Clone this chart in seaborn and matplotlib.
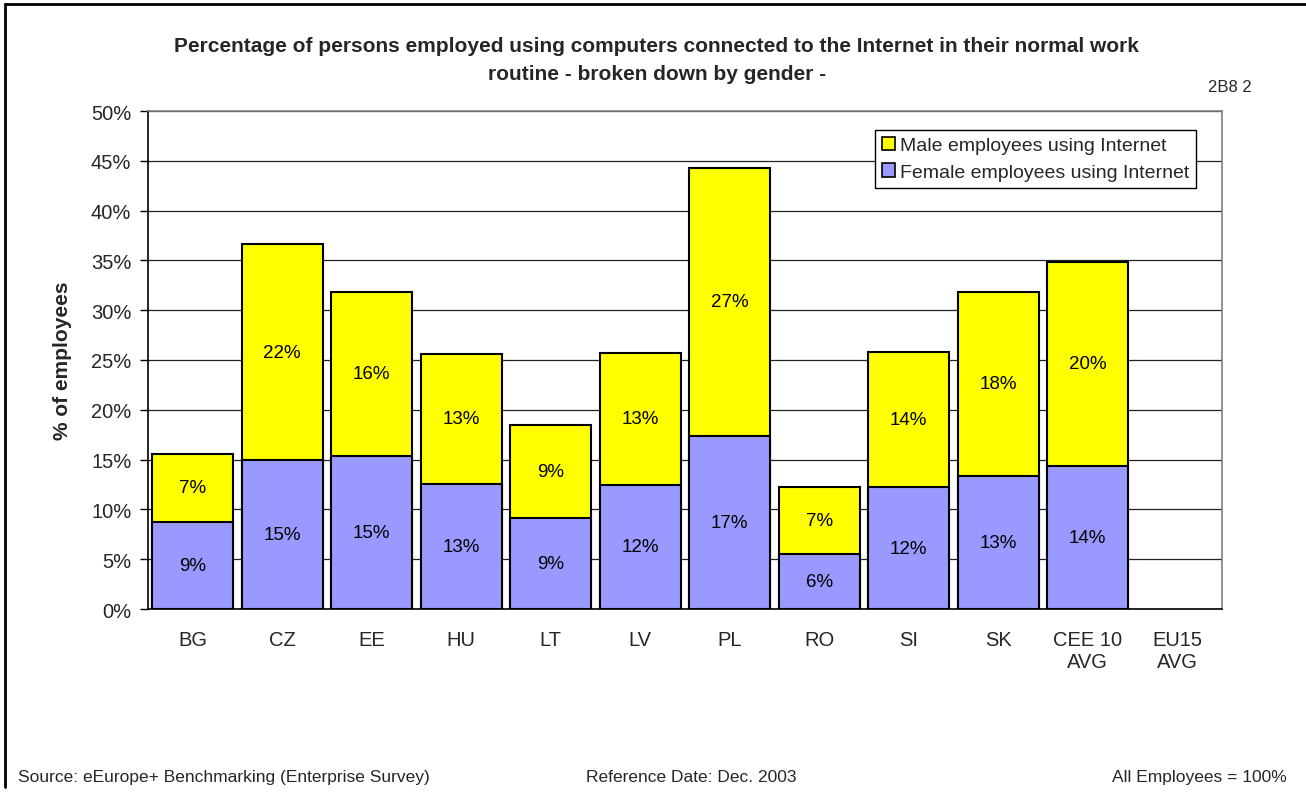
import matplotlib
matplotlib.use("Agg")
import matplotlib.pyplot as plt
from matplotlib.patches import Patch
from matplotlib.lines import Line2D
import numpy as np
import pandas as pd
import seaborn as sns

# Share of employees using Internet-connected computers, by gender (% of all employees)
countries = ["BG", "CZ", "EE", "HU", "LT", "LV", "PL", "RO", "SI", "SK", "CEE 10\nAVG", "EU15\nAVG"]
female = [8.7, 15.0, 15.4, 12.6, 9.1, 12.5, 17.4, 5.5, 12.2, 13.4, 14.4, np.nan]
male = [6.9, 21.6, 16.4, 13.0, 9.4, 13.2, 26.9, 6.7, 13.6, 18.4, 20.4, np.nan]
y_ticks = [0, 5, 10, 15, 20, 25, 30, 35, 40, 45, 50]

df = pd.DataFrame({"country": countries, "female": female, "male": male})
df["total"] = df["female"] + df["male"]

sns.set_theme(style="white")
plt.rcParams["font.family"] = ["Liberation Sans", "DejaVu Sans"]

YELLOW = "#FFFF00"
BLUE = "#9999FF"

fig = plt.figure(figsize=(13.06, 8.03), dpi=100)
ax = fig.add_axes([148 / 1306, 1 - 610 / 803, 1074 / 1306, 498 / 803])

# stacked bars: full height in yellow (male on top), female part drawn over it
sns.barplot(data=df, x="country", y="total", order=countries, color=YELLOW,
            saturation=1, width=0.9, edgecolor="black", linewidth=1.5, ax=ax, zorder=3)
sns.barplot(data=df, x="country", y="female", order=countries, color=BLUE,
            saturation=1, width=0.9, edgecolor="black", linewidth=1.5, ax=ax, zorder=4)

for i, row in df.iterrows():
    if np.isnan(row["female"]):
        continue
    ax.text(i, row["female"] / 2, f"{row['female']:.0f}%", ha="center", va="center",
            fontsize=13.5, color="black", zorder=6)
    ax.text(i, row["female"] + row["male"] / 2, f"{row['male']:.0f}%", ha="center",
            va="center", fontsize=13.5, color="black", zorder=6)

ax.set_xlim(-0.5, len(countries) - 0.5)
ax.set_ylim(0, 50)
ax.set_yticks(y_ticks)
ax.set_yticklabels([f"{t}%" for t in y_ticks], fontsize=14.5)
ax.set_xticks(range(len(countries)))
ax.set_xticklabels(countries, fontsize=14.5, linespacing=1.2)
ax.set_xticks(np.arange(-0.5, len(countries), 1), minor=True)
ax.tick_params(axis="x", which="major", length=0, pad=15)
ax.tick_params(axis="x", which="minor", length=6, width=1, color="black", direction="out")
ax.tick_params(axis="y", which="major", length=6, width=1, color="black", direction="out", pad=6, left=True)
ax.set_xlabel("")
ax.set_ylabel("% of employees", fontsize=15, fontweight="bold")
ax.yaxis.set_label_coords(-76 / 1074, 0.5)

ax.yaxis.grid(True, color="#222222", linewidth=0.9, zorder=0)
ax.set_axisbelow(True)
for side in ["left", "bottom"]:
    ax.spines[side].set_color("black")
    ax.spines[side].set_linewidth(1.2)
for side in ["top", "right"]:
    ax.spines[side].set_color("#808080")
    ax.spines[side].set_linewidth(1.2)

handles = [Patch(facecolor=YELLOW, edgecolor="black", linewidth=1.2),
           Patch(facecolor=BLUE, edgecolor="black", linewidth=1.2)]
leg = ax.legend(handles, ["Male employees using Internet", "Female employees using Internet"],
                loc="upper right", bbox_to_anchor=(0.976, 0.962), fontsize=14,
                handlelength=0.7, handleheight=0.7, handletextpad=0.25,
                borderpad=0.35, labelspacing=0.45, fancybox=False, framealpha=1,
                edgecolor="black", borderaxespad=0)
leg.get_frame().set_linewidth(1.0)
leg.set_zorder(10)

fig.text(656 / 1306, 1 - 46 / 803,
         "Percentage of persons employed using computers connected to the Internet in their normal work",
         ha="center", va="center", fontsize=15, fontweight="bold")
fig.text(657 / 1306, 1 - 75 / 803, "routine - broken down by gender -",
         ha="center", va="center", fontsize=15, fontweight="bold")
fig.text(1252 / 1306, 1 - 88 / 803, "2B8 2", ha="right", va="center", fontsize=12)

fig.text(18 / 1306, 1 - 778 / 803, "Source: eEurope+ Benchmarking (Enterprise Survey)",
         ha="left", va="center", fontsize=12.5)
fig.text(586 / 1306, 1 - 778 / 803, "Reference Date: Dec. 2003", ha="left", va="center", fontsize=12.5)
fig.text(1287 / 1306, 1 - 778 / 803, "All Employees = 100%", ha="right", va="center", fontsize=12.5)

# outer frame (top and left edges)
fig.add_artist(Line2D([5 / 1306, 1.0], [1 - 5 / 803, 1 - 5 / 803], transform=fig.transFigure,
                      color="black", linewidth=2))
fig.add_artist(Line2D([5 / 1306, 5 / 1306], [1 - 5 / 803, 1 - 788 / 803], transform=fig.transFigure,
                      color="black", linewidth=2))

fig.savefig("out.png", dpi=100, facecolor="white")
